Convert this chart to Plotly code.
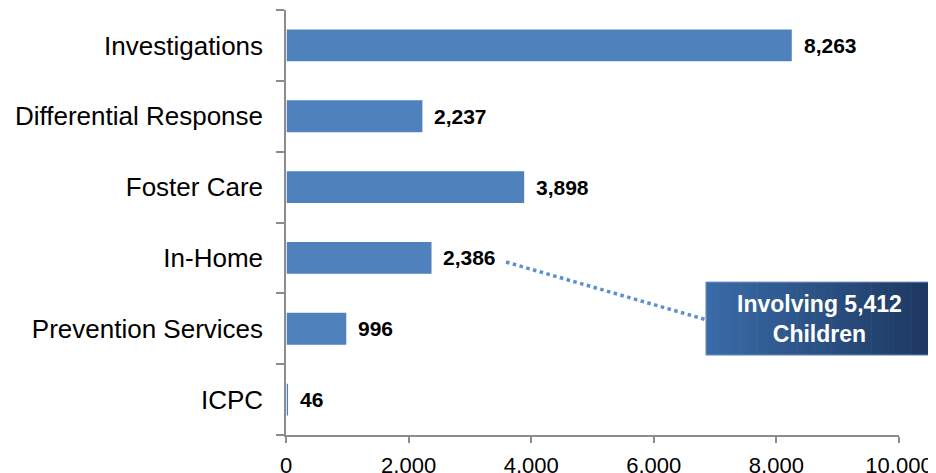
import plotly.graph_objects as go

categories = ["Investigations", "Differential Response", "Foster Care",
              "In-Home", "Prevention Services", "ICPC"]
values = [8263, 2237, 3898, 2386, 996, 46]
x_ticks = [0, 2000, 4000, 6000, 8000, 10000]
callout_text = "Involving 5,412<br>Children"

FONT = "Liberation Sans, Arial, sans-serif"
BAR = "#4F81BD"

fig = go.Figure()
fig.add_trace(go.Bar(
    x=values,
    y=categories,
    orientation="h",
    marker=dict(color=BAR, line=dict(color="#ffffff", width=1.5)),
    hoverinfo="x+y",
    showlegend=False,
))

# value labels just past the bar end
for cat, v in zip(categories, values):
    fig.add_annotation(
        x=v, y=cat, xref="x", yref="y",
        text=f"<b>{v:,}</b>", showarrow=False,
        xanchor="left", xshift=9,
        font=dict(family=FONT, size=21, color="#000000"),
    )

# callout box with a horizontal gradient made of thin strips
x0, x1, y0, y1 = 0.685, 1.057, 0.188, 0.36
n = 40
c_left = (0x3A, 0x6B, 0xA8)
c_right = (0x1D, 0x38, 0x60)
for i in range(n):
    t = i / (n - 1)
    col = tuple(int(a + (b - a) * t) for a, b in zip(c_left, c_right))
    fig.add_shape(
        type="rect", xref="paper", yref="paper",
        x0=x0 + (x1 - x0) * i / n, x1=x0 + (x1 - x0) * (i + 1) / n + 0.001,
        y0=y0, y1=y1,
        fillcolor="rgb(%d,%d,%d)" % col, line=dict(width=0), layer="above",
    )
fig.add_shape(type="rect", xref="paper", yref="paper",
              x0=x0, x1=x1, y0=y0, y1=y1,
              line=dict(color="#7f9cc4", width=1), layer="above")
fig.add_annotation(
    x=(x0 + x1) / 2, y=(y0 + y1) / 2, xref="paper", yref="paper",
    text=f"<b>{callout_text}</b>", showarrow=False,
    font=dict(family=FONT, size=23, color="#ffffff"),
    align="center", xanchor="center", yanchor="middle",
)

# dotted connector from the In-Home label to the callout
fig.add_shape(type="line", xref="paper", yref="paper",
              x0=0.359, y0=0.407, x1=0.686, y1=0.271,
              line=dict(color="#5b8fcf", width=3.5, dash="dot"))

# page body adds an 8px offset, so the figure is sized/margined to compensate
fig.update_layout(
    width=928, height=465,
    margin=dict(l=278, r=37, t=2, b=38, autoexpand=False),
    paper_bgcolor="#ffffff",
    plot_bgcolor="#ffffff",
    bargap=0.53,
    font=dict(family=FONT, color="#000000"),
)
fig.update_xaxes(
    range=[0, 10000],
    tickvals=x_ticks,
    tickformat=",d",
    showgrid=False,
    zeroline=False,
    automargin=False,
    showline=True, linecolor="#8c8c8c", linewidth=1.5,
    ticks="outside", ticklen=6, tickcolor="#8c8c8c", tickwidth=1.5,
    tickfont=dict(family=FONT, size=22, color="#000000"),
    ticklabelstandoff=4,
)
fig.update_yaxes(
    categoryorder="array",
    categoryarray=categories[::-1],
    showgrid=False,
    automargin=False,
    showline=True, linecolor="#8c8c8c", linewidth=1.5,
    ticks="outside", ticklen=8, tickcolor="#8c8c8c", tickwidth=1.5,
    tickson="boundaries",
    tickfont=dict(family=FONT, size=26, color="#000000"),
    ticklabelstandoff=16,
)

fig.write_html("out.html")
